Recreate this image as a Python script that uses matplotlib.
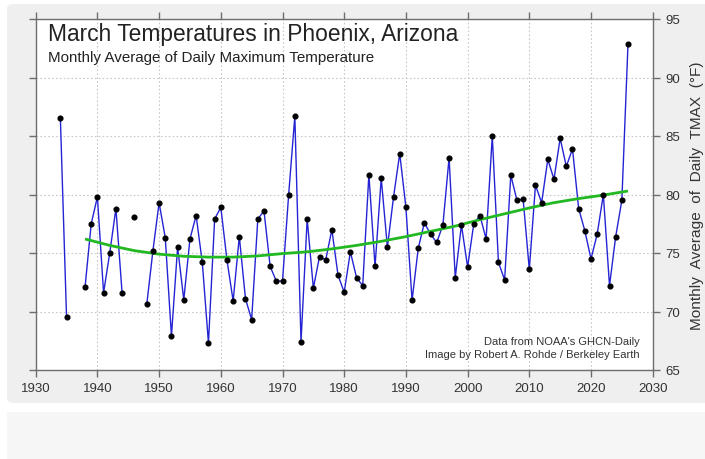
import matplotlib
matplotlib.use("Agg")
import matplotlib.pyplot as plt
from matplotlib.patches import FancyBboxPatch, Rectangle

years = [1934, 1935,
         1938, 1939, 1940, 1941, 1942, 1943, 1944,
         1946,
         1948, 1949, 1950, 1951, 1952, 1953, 1954, 1955, 1956, 1957, 1958, 1959,
         1960, 1961, 1962, 1963, 1964, 1965, 1966, 1967, 1968, 1969,
         1970, 1971, 1972, 1973, 1974, 1975, 1976, 1977, 1978, 1979,
         1980, 1981, 1982, 1983, 1984, 1985, 1986, 1987, 1988, 1989,
         1990, 1991, 1992, 1993, 1994, 1995, 1996, 1997, 1998, 1999,
         2000, 2001, 2002, 2003, 2004, 2005, 2006, 2007, 2008, 2009,
         2010, 2011, 2012, 2013, 2014, 2015, 2016, 2017, 2018, 2019,
         2020, 2021, 2022, 2023, 2024, 2025, 2026]
tmax = [86.5, 69.5,
        72.1, 77.5, 79.8, 71.6, 75.0, 78.8, 71.6,
        78.1,
        70.6, 75.2, 79.3, 76.3, 67.9, 75.5, 71.0, 76.2, 78.2, 74.2, 67.3, 77.9,
        78.9, 74.4, 70.9, 76.4, 71.1, 69.3, 77.9, 78.6, 73.85, 72.6,
        72.6, 80.0, 86.7, 67.4, 77.9, 72.0, 74.7, 74.4, 77.0, 73.1,
        71.65, 75.1, 72.9, 72.2, 81.7, 73.85, 81.4, 75.5, 79.8, 83.5,
        78.9, 70.95, 75.4, 77.6, 76.6, 75.9, 77.4, 83.15, 72.9, 77.4,
        73.8, 77.5, 78.2, 76.2, 85.0, 74.2, 72.7, 81.65, 79.5, 79.6,
        73.6, 80.8, 79.3, 83.0, 81.3, 84.8, 82.4, 83.9, 78.8, 76.9,
        74.5, 76.6, 80.0, 72.2, 76.4, 79.5, 92.9]

trend_years = [1938, 1942, 1946, 1950, 1954, 1958, 1962, 1966, 1970, 1974,
               1978, 1982, 1986, 1990, 1994, 1998, 2002, 2006, 2010, 2014,
               2018, 2022, 2026]
trend_vals = [76.2, 75.65, 75.2, 74.9, 74.72, 74.65, 74.65, 74.75, 74.95, 75.1,
              75.35, 75.65, 76.0, 76.4, 76.85, 77.3, 77.85, 78.35, 78.85, 79.3,
              79.65, 79.95, 80.3]

x_ticks = list(range(1930, 2031, 10))
y_ticks = [65, 70, 75, 80, 85, 90, 95]

plt.rcParams['font.family'] = ['Liberation Sans', 'DejaVu Sans']

W, H = 705, 460
fig = plt.figure(figsize=(W / 100, H / 100), dpi=100, facecolor='white')

# background panels
fig.patches.append(FancyBboxPatch((7 / W, 1 - 404 / H), (W + 20 - 7) / W, (404 - 5) / H,
                                  boxstyle="round,pad=0,rounding_size=0.01",
                                  transform=fig.transFigure, facecolor='#efefef',
                                  edgecolor='none', zorder=-10))
fig.patches.append(Rectangle((7 / W, 0), (W - 7) / W, (460 - 413) / H,
                             transform=fig.transFigure, facecolor='#f6f6f6',
                             edgecolor='none', zorder=-10))

left, right = 35.7 / W, 652.7 / W
top, bottom = 1 - 20 / H, 1 - 371 / H
ax = fig.add_axes([left, bottom, right - left, top - bottom])
ax.set_zorder(1)
ax.set_facecolor('white')

ax.set_xlim(1930, 2030)
ax.set_ylim(65, 95)
ax.set_xticks(x_ticks)
ax.set_yticks(y_ticks)

ax.grid(True, color='#c8c8c8', linestyle=(0, (1.5, 2)), linewidth=0.8)
ax.set_axisbelow(True)

# data: line segments broken at missing years
seg_x, seg_y = [], []
prev = None
for yr, v in zip(years, tmax):
    if prev is not None and yr - prev > 1:
        if len(seg_x) > 1:
            ax.plot(seg_x, seg_y, color='#2424d4', linewidth=1.0, zorder=3)
        seg_x, seg_y = [], []
    seg_x.append(yr)
    seg_y.append(v)
    prev = yr
if len(seg_x) > 1:
    ax.plot(seg_x, seg_y, color='#2424d4', linewidth=1.0, zorder=3)

ax.plot(trend_years, trend_vals, color='#22b822', linewidth=2.0, zorder=4,
        solid_capstyle='butt')
ax.plot(years, tmax, linestyle='none', marker='o', markersize=3.4,
        color='black', zorder=5)

for s in ax.spines.values():
    s.set_color('#6e6e6e')
    s.set_linewidth(1.0)

ax.tick_params(axis='both', which='both', direction='out', length=5,
               width=1.0, color='#6e6e6e', labelsize=9.5, labelcolor='#333333',
               top=True, right=True, left=True, bottom=True,
               labelleft=False, labelright=True, labeltop=False, labelbottom=True)
ax.tick_params(axis='x', pad=4)
ax.tick_params(axis='y', pad=4)

ax.yaxis.set_label_position('right')
ax.set_ylabel('Monthly  Average  of  Daily  TMAX  (°F)', fontsize=11.1,
              color='#333333', labelpad=7)

ax.text(0.02, 0.94, 'March Temperatures in Phoenix, Arizona', transform=ax.transAxes,
        fontsize=16.4, color='#222222', ha='left', va='baseline')
ax.text(0.02, 0.88, 'Monthly Average of Daily Maximum Temperature', transform=ax.transAxes,
        fontsize=10.9, color='#222222', ha='left', va='baseline')
ax.text(0.979, 0.073, "Data from NOAA's GHCN-Daily", transform=ax.transAxes,
        fontsize=8, color='#333333', ha='right', va='baseline')
ax.text(0.979, 0.038, "Image by Robert A. Rohde / Berkeley Earth", transform=ax.transAxes,
        fontsize=8, color='#333333', ha='right', va='baseline')

fig.savefig('out.png', dpi=100, facecolor=fig.get_facecolor())
